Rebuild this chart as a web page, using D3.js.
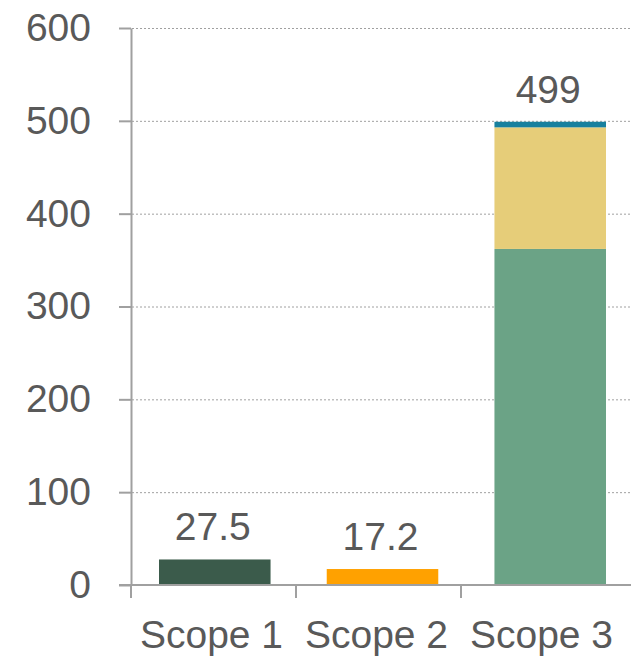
<!DOCTYPE html>
<html>
<head>
<meta charset="utf-8">
<script src="https://cdn.jsdelivr.net/npm/d3@7"></script>
<style>
  body { margin: 0; background: #fff; }
  text { font-family: "Liberation Sans", Arial, sans-serif; fill: #595959; }
</style>
</head>
<body>
<div id="chart"></div>
<script>
// data
var categories = ["Scope 1", "Scope 2", "Scope 3"];
var darkValues = [27.5, 0, 0];
var orangeValues = [0, 17.2, 0];
var greenValues = [0, 0, 362];
var yellowValues = [0, 0, 131];
var blueValues = [0, 0, 6];
var totalLabels = ["27.5", "17.2", "499"];
var yTicks = [0, 100, 200, 300, 400, 500, 600];

var seriesKeys = ["dark", "orange", "green", "yellow", "blue"];
var seriesColors = {
  dark: "#3b5b4b",
  orange: "#ffa100",
  green: "#6ba386",
  yellow: "#e6cd79",
  blue: "#17809e"
};

var svgWidth = 631;
var svgHeight = 659;

var svg = d3.select("#chart").append("svg")
  .attr("width", svgWidth)
  .attr("height", svgHeight);

// build rows for the stack
var rows = categories.map(function(c, i) {
  return {
    cat: c,
    dark: darkValues[i],
    orange: orangeValues[i],
    green: greenValues[i],
    yellow: yellowValues[i],
    blue: blueValues[i],
    label: totalLabels[i]
  };
});

var stacked = d3.stack().keys(seriesKeys)(rows);

// bar positions
var xScale = d3.scaleBand()
  .domain(categories)
  .range([131, 634])
  .paddingInner(0.335)
  .paddingOuter(0.167);

// category separator positions
var xTicks = d3.scaleBand()
  .domain(categories)
  .range([131, 626]);

var yScale = d3.scaleLinear()
  .domain([0, 600])
  .range([585, 28]);

// dotted gridlines
svg.append("g")
  .selectAll("line")
  .data(yTicks.filter(function(d) { return d > 0; }))
  .enter()
  .append("line")
  .attr("x1", 132)
  .attr("x2", 631)
  .attr("y1", function(d) { return yScale(d) + 0.5; })
  .attr("y2", function(d) { return yScale(d) + 0.5; })
  .attr("stroke", "#a0a0a0")
  .attr("stroke-width", 1)
  .attr("stroke-dasharray", "2,2");

// bars
svg.append("g")
  .selectAll("g")
  .data(stacked)
  .enter()
  .append("g")
  .attr("fill", function(s) { return seriesColors[s.key]; })
  .selectAll("rect")
  .data(function(s) { return s.filter(function(d) { return d[1] - d[0] > 0; }); })
  .enter()
  .append("rect")
  .attr("x", function(d) { return xScale(d.data.cat); })
  .attr("width", xScale.bandwidth())
  .attr("y", function(d) { return yScale(d[1]); })
  .attr("height", function(d) { return yScale(d[0]) - yScale(d[1]); });

// y axis
var yAxis = d3.axisLeft(yScale)
  .tickValues(yTicks)
  .tickSize(12)
  .tickSizeOuter(0)
  .tickPadding(28);

var yG = svg.append("g")
  .attr("transform", "translate(131, 0)")
  .call(yAxis);
yG.select(".domain").attr("stroke", "#a0a0a0").attr("stroke-width", 2);
yG.selectAll(".tick line").attr("stroke", "#a0a0a0").attr("stroke-width", 2);
yG.selectAll(".tick text")
  .attr("font-family", "Liberation Sans, Arial, sans-serif")
  .attr("font-size", "39px")
  .attr("fill", "#595959");

// x axis line
svg.append("line")
  .attr("x1", 119)
  .attr("x2", 631)
  .attr("y1", yScale(0))
  .attr("y2", yScale(0))
  .attr("stroke", "#a0a0a0")
  .attr("stroke-width", 2);

// category separator ticks
svg.append("g")
  .selectAll("line")
  .data(categories)
  .enter()
  .append("line")
  .attr("x1", function(d) { return xTicks(d); })
  .attr("x2", function(d) { return xTicks(d); })
  .attr("y1", yScale(0))
  .attr("y2", yScale(0) + 13)
  .attr("stroke", "#a0a0a0")
  .attr("stroke-width", 2);

// category labels
svg.append("g")
  .selectAll("text")
  .data(categories)
  .enter()
  .append("text")
  .attr("x", function(d) { return xTicks(d) + xTicks.bandwidth() / 2 - 2; })
  .attr("y", 648)
  .attr("text-anchor", "middle")
  .attr("font-size", "39px")
  .text(function(d) { return d; });

// value labels
svg.append("g")
  .selectAll("text")
  .data(rows)
  .enter()
  .append("text")
  .attr("x", function(d) { return xScale(d.cat) + xScale.bandwidth() / 2 - 2; })
  .attr("y", function(d) {
    var total = d.dark + d.orange + d.green + d.yellow + d.blue;
    return yScale(total) - 19;
  })
  .attr("text-anchor", "middle")
  .attr("font-size", "39px")
  .text(function(d) { return d.label; });
</script>
</body>
</html>
